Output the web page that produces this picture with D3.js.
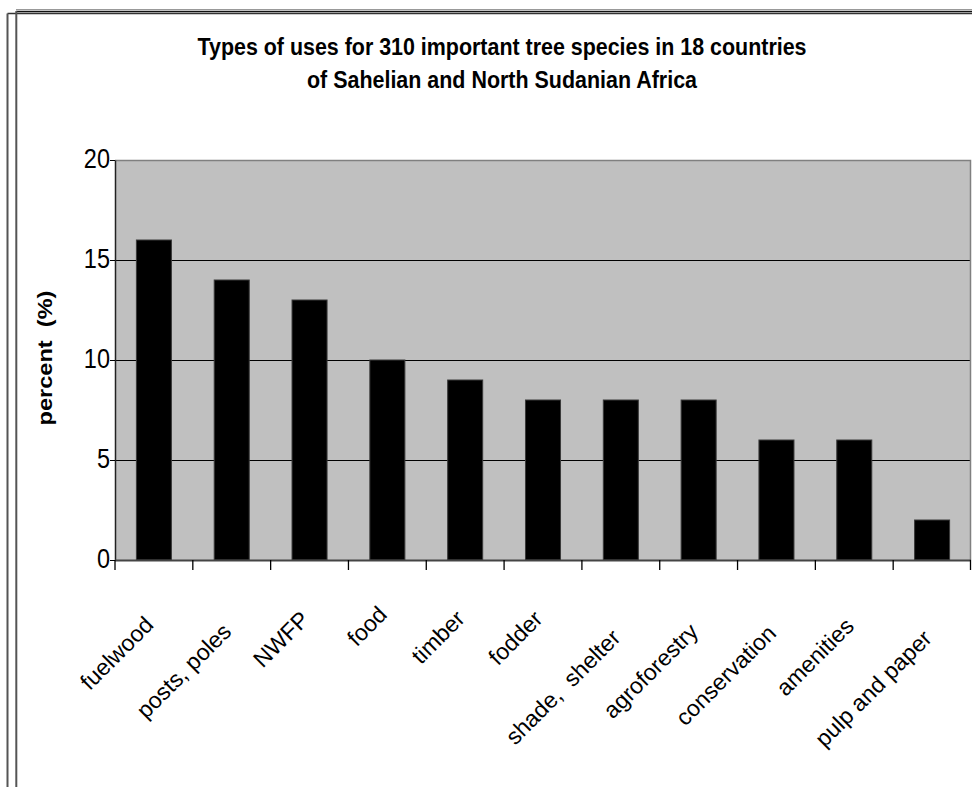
<!DOCTYPE html>
<html>
<head>
<meta charset="utf-8">
<script src="https://cdn.jsdelivr.net/npm/d3@7"></script>
<style>
  html, body { margin: 0; padding: 0; background: #fff; }
  svg { display: block; }
  text { font-family: "Liberation Sans", Arial, sans-serif; fill: #000; white-space: pre; }
</style>
</head>
<body>
<svg id="chart" width="972" height="787"></svg>
<script>
// Category names, values (percent) and axis ticks
const categories = ["fuelwood", "posts, poles", "NWFP", "food", "timber", "fodder",
                    "shade,  shelter", "agroforestry", "conservation", "amenities", "pulp and paper"];
const percentValues = [16, 14, 13, 10, 9, 8, 8, 8, 6, 6, 2];
const yTickValues = [0, 5, 10, 15, 20];
const titleLines = ["Types of uses for 310 important tree species in 18 countries",
                    "of Sahelian and North Sudanian Africa"];
const yAxisTitle = "percent  (%)";

const svg = d3.select("#chart");
const W = 972, H = 787;
const plot = { left: 115, right: 971, top: 160, bottom: 560 };
const stretchY = 1.15; // upright text is drawn slightly taller than wide

// Frame lines around the chart area
svg.append("line").attr("x1", 7.5).attr("y1", 13.5).attr("x2", W).attr("y2", 13.5)
  .attr("stroke", "#333").attr("stroke-width", 1.5);
svg.append("line").attr("x1", 7.5).attr("y1", 13.5).attr("x2", 7.5).attr("y2", H)
  .attr("stroke", "#555").attr("stroke-width", 2);
svg.append("line").attr("x1", 16).attr("y1", 9.5).attr("x2", W).attr("y2", 9.5)
  .attr("stroke", "#999").attr("stroke-width", 1.2);
svg.append("line").attr("x1", 16).attr("y1", 11.5).attr("x2", W).attr("y2", 11.5)
  .attr("stroke", "#111").attr("stroke-width", 1.5);
svg.append("line").attr("x1", 16.3).attr("y1", 11).attr("x2", 16.3).attr("y2", H)
  .attr("stroke", "#555").attr("stroke-width", 2);

// Scales
const x = d3.scaleBand().domain(categories).range([plot.left, plot.right]).padding(0);
const y = d3.scaleLinear().domain([0, 20]).range([plot.bottom, plot.top]);

// Plot background
svg.append("rect")
  .attr("x", plot.left).attr("y", plot.top)
  .attr("width", plot.right - plot.left).attr("height", plot.bottom - plot.top)
  .attr("fill", "#c0c0c0");

// Horizontal gridlines
svg.append("g")
  .selectAll("line")
  .data(yTickValues.filter(v => v > 0 && v < 20))
  .join("line")
  .attr("x1", plot.left).attr("x2", plot.right)
  .attr("y1", d => Math.round(y(d)) + 0.5).attr("y2", d => Math.round(y(d)) + 0.5)
  .attr("stroke", "#000").attr("stroke-width", 1);

// Plot border top and right
svg.append("path")
  .attr("d", `M${plot.left},${plot.top + 0.5}H${plot.right - 0.5}V${plot.bottom}`)
  .attr("fill", "none").attr("stroke", "#808080").attr("stroke-width", 1.5);

// Bars
const barW = x.bandwidth() * 0.45;
svg.append("g")
  .selectAll("rect")
  .data(categories.map((c, i) => ({ c, v: percentValues[i] })))
  .join("rect")
  .attr("x", d => x(d.c) + (x.bandwidth() - barW) / 2)
  .attr("y", d => y(d.v))
  .attr("width", barW)
  .attr("height", d => y(0) - y(d.v))
  .attr("fill", "#000")
  .attr("stroke", "#3a3a3a").attr("stroke-width", 1);

// Y axis
const yAxis = svg.append("g")
  .attr("transform", `translate(${plot.left},0)`)
  .call(d3.axisLeft(y).tickValues(yTickValues).tickSize(5).tickSizeOuter(0).tickPadding(3));
yAxis.select(".domain").attr("stroke", "#222").attr("stroke-width", 1.5);
yAxis.selectAll(".tick line").attr("stroke", "#000");
yAxis.selectAll(".tick text")
  .attr("font-size", 23.5)
  .attr("font-family", "Liberation Sans, Arial, sans-serif")
  .attr("fill", "#000")
  .each(function () {
    const t = d3.select(this);
    t.attr("dy", null).attr("x", null)
     .attr("transform", `translate(-5,7.5) scale(1,${stretchY})`);
  });

// X axis baseline with ticks at category boundaries
svg.append("line")
  .attr("x1", plot.left).attr("x2", plot.right)
  .attr("y1", plot.bottom + 0.5).attr("y2", plot.bottom + 0.5)
  .attr("stroke", "#444").attr("stroke-width", 1.8);
const boundaries = categories.map(c => x(c)).concat([plot.right - 0.5]);
svg.append("g")
  .selectAll("line")
  .data(boundaries)
  .join("line")
  .attr("x1", d => d).attr("x2", d => d)
  .attr("y1", plot.bottom).attr("y2", plot.bottom + 10)
  .attr("stroke", "#000").attr("stroke-width", 1.3);

// Rotated category labels; longer labels sit a little lower
svg.append("g")
  .selectAll("text")
  .data(categories)
  .join("text")
  .attr("text-anchor", "end")
  .attr("font-size", 23)
  .text(c => c)
  .each(function (c) {
    const len = this.getComputedTextLength();
    const ax = x(c) + x.bandwidth() / 2 + 1;
    const ay = plot.bottom + 46 + 0.22 * len;
    d3.select(this).attr("transform", `translate(${ax},${ay}) rotate(-45)`);
  });

// Y axis title
svg.append("text")
  .attr("text-anchor", "middle")
  .attr("font-weight", "bold")
  .attr("font-size", 20.5)
  .attr("transform", `translate(52,358) scale(1,${stretchY}) rotate(-90)`)
  .text(yAxisTitle);

// Chart title
const titleWidths = [609, 390];
svg.append("g")
  .selectAll("text")
  .data(titleLines)
  .join("text")
  .attr("x", 502)
  .attr("y", 0)
  .attr("text-anchor", "middle")
  .attr("font-weight", "bold")
  .attr("font-size", 20)
  .attr("textLength", (d, i) => titleWidths[i])
  .attr("lengthAdjust", "spacingAndGlyphs")
  .attr("transform", (d, i) => `translate(0,${55 + i * 33}) scale(1,${stretchY})`)
  .text(d => d);
</script>
</body>
</html>
